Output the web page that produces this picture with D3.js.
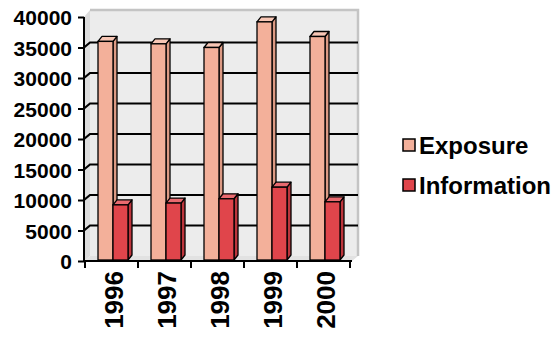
<!DOCTYPE html>
<html>
<head>
<meta charset="utf-8">
<script src="https://cdn.jsdelivr.net/npm/d3@7/dist/d3.min.js"></script>
<style>
  html, body { margin: 0; padding: 0; background: #fff; }
  svg { display: block; font-family: "Liberation Sans", Arial, sans-serif; font-weight: bold; }
</style>
</head>
<body>
<svg id="chart" width="552" height="337"></svg>
<script>
// Yearly totals for the two series
const years = ["1996", "1997", "1998", "1999", "2000"];
const exposure = [36000, 35600, 35000, 39200, 36800];
const information = [9200, 9500, 10200, 12100, 9700];
const seriesNames = ["Exposure", "Information"];
const yTicks = [0, 5000, 10000, 15000, 20000, 25000, 30000, 35000, 40000];

const colors = {
  Exposure: { front: "#f3b09a", side: "#dc9a84", top: "#f7c6b5" },
  Information: { front: "#e0454b", side: "#bd353c", top: "#e96a6f" }
};

const svg = d3.select("#chart");

// Front plane geometry and the depth of the back wall
const plotLeft = 84, plotRight = 350, yTop = 17, yBottom = 261;
const wallDX = 6, wallDY = -5;
const barDX = 4, barDY = -5;

const x = d3.scaleBand().domain(years).range([plotLeft + 1, plotRight]).paddingInner(0).paddingOuter(0);
const y = d3.scaleLinear().domain([0, 40000]).range([yBottom, yTop]);

// Back wall
svg.append("rect")
  .attr("x", plotLeft + wallDX).attr("y", yTop + wallDY - 2)
  .attr("width", plotRight + 2 - plotLeft).attr("height", yBottom - yTop + 2)
  .attr("fill", "#ececec");
// Side wall
svg.append("path")
  .attr("d", `M${plotLeft},${y(40000)} L${plotLeft + wallDX},${y(40000) + wallDY - 2} L${plotLeft + wallDX},${yBottom + wallDY} L${plotLeft},${yBottom} Z`)
  .attr("fill", "#dcdcdc");
// Floor
svg.append("path")
  .attr("d", `M${plotLeft},${yBottom} L${plotLeft + wallDX},${yBottom + wallDY} L${plotRight + 2 + wallDX},${yBottom + wallDY} L${plotRight + 2},${yBottom} Z`)
  .attr("fill", "#e2e2e2");
// Wall frame on the top and right
svg.append("path")
  .attr("d", `M${plotLeft + wallDX},${yTop + wallDY - 2} L${plotRight + 2 + wallDX},${yTop + wallDY - 2} L${plotRight + 2 + wallDX},${yBottom + wallDY}`)
  .attr("fill", "none").attr("stroke", "#c4c4c4").attr("stroke-width", 2.5);

// Gridlines: slant across the side wall, then run along the back wall
svg.append("g").selectAll("path")
  .data(yTicks.filter(t => t > 0 && t < 40000))
  .join("path")
  .attr("d", t => `M${plotLeft},${y(t)} L${plotLeft + wallDX},${y(t) + wallDY} L${plotRight + 2 + wallDX},${y(t) + wallDY}`)
  .attr("fill", "none").attr("stroke", "#000").attr("stroke-width", 2.2);

// Y axis
const yAxis = d3.axisLeft(y).tickValues(yTicks).tickSize(6).tickPadding(6).tickFormat(d3.format("d"));
const yg = svg.append("g").attr("transform", `translate(${plotLeft},0)`).call(yAxis);
yg.select(".domain").attr("stroke", "#000").attr("stroke-width", 2).attr("d", `M0,${yTop}V${yBottom}`);
yg.selectAll(".tick line").attr("stroke", "#000").attr("stroke-width", 2);
yg.selectAll(".tick text").attr("fill", "#000").style("font-size", "21px").style("font-weight", "bold")
  .style("font-family", "'Liberation Sans', Arial, sans-serif").attr("dy", "0.36em");

// X axis along the front edge of the floor
const xAxis = d3.axisBottom(x).tickSize(0).tickFormat("");
const xg = svg.append("g").attr("transform", `translate(0,${yBottom})`).call(xAxis);
xg.select(".domain").attr("stroke", "#000").attr("stroke-width", 2).attr("d", `M${plotLeft},0H${plotRight + 2}`);
// Category separator ticks
xg.selectAll("line.sep")
  .data(years.concat(["end"]))
  .join("line")
  .attr("class", "sep")
  .attr("x1", (d, i) => i < years.length ? x(d) : x(years[years.length - 1]) + x.bandwidth())
  .attr("x2", (d, i) => i < years.length ? x(d) : x(years[years.length - 1]) + x.bandwidth())
  .attr("y1", 0).attr("y2", 7)
  .attr("stroke", "#000").attr("stroke-width", 2);

// Year labels, rotated
svg.append("g").selectAll("text")
  .data(years)
  .join("text")
  .attr("transform", d => `translate(${x(d) + x.bandwidth() / 2 + 2},271) rotate(-90)`)
  .attr("text-anchor", "end")
  .attr("dy", "0.36em")
  .style("font-size", "26px")
  .attr("fill", "#000")
  .text(d => d);

// 3D columns
const barW = 15, barOffset = 13;
const rows = [];
years.forEach((yr, i) => {
  rows.push({ year: yr, series: "Exposure", value: exposure[i], x0: x(yr) + barOffset });
  rows.push({ year: yr, series: "Information", value: information[i], x0: x(yr) + barOffset + barW });
});

const bars = svg.append("g").selectAll("g").data(rows).join("g");
bars.append("path") // right side
  .attr("d", d => `M${d.x0 + barW},${y(d.value)} L${d.x0 + barW + barDX},${y(d.value) + barDY} L${d.x0 + barW + barDX},${yBottom - 1 + barDY} L${d.x0 + barW},${yBottom - 1} Z`)
  .attr("fill", d => colors[d.series].side).attr("stroke", "#000").attr("stroke-width", 1.3).attr("stroke-linejoin", "round");
bars.append("path") // top
  .attr("d", d => `M${d.x0},${y(d.value)} L${d.x0 + barDX},${y(d.value) + barDY} L${d.x0 + barW + barDX},${y(d.value) + barDY} L${d.x0 + barW},${y(d.value)} Z`)
  .attr("fill", d => colors[d.series].top).attr("stroke", "#000").attr("stroke-width", 1.3).attr("stroke-linejoin", "round");
bars.append("rect") // front
  .attr("x", d => d.x0).attr("y", d => y(d.value))
  .attr("width", barW).attr("height", d => yBottom - 1 - y(d.value))
  .attr("fill", d => colors[d.series].front).attr("stroke", "#000").attr("stroke-width", 1.3);

// Legend
const legend = svg.append("g").selectAll("g")
  .data(seriesNames)
  .join("g")
  .attr("transform", (d, i) => `translate(403,${145 + i * 40})`);
legend.append("rect")
  .attr("x", 0).attr("y", -6).attr("width", 12).attr("height", 12)
  .attr("fill", d => colors[d].front).attr("stroke", "#000").attr("stroke-width", 1.5);
legend.append("text")
  .attr("x", 16).attr("dy", "0.36em")
  .style("font-size", "24px")
  .attr("fill", "#000")
  .text(d => d);
</script>
</body>
</html>
